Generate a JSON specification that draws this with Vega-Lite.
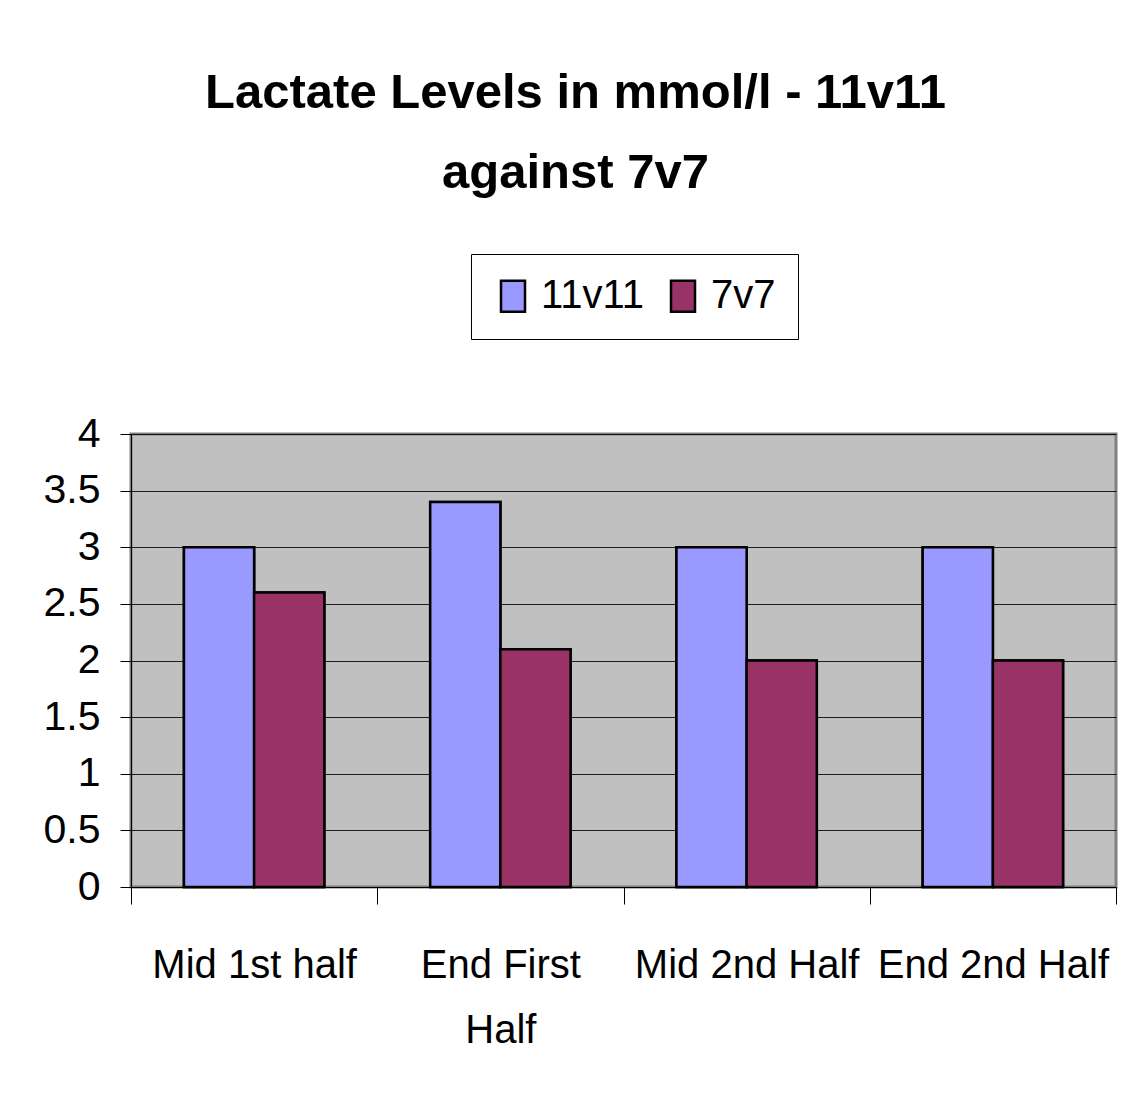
{
  "$schema": "https://vega.github.io/schema/vega-lite/v6.json",
  "width": 985,
  "height": 453,
  "autosize": {"type": "none"},
  "padding": {"left": 131, "top": 434, "right": 17, "bottom": 219},
  "background": "white",
  "title": {
    "text": ["Lactate Levels in mmol/l - 11v11", "against 7v7"],
    "font": "Liberation Sans",
    "fontSize": 49,
    "fontWeight": "bold",
    "color": "black",
    "lineHeight": 80,
    "anchor": "middle",
    "frame": "group",
    "dx": -48,
    "offset": 56
  },
  "data": {
    "values": [
      {"period": "Mid 1st half", "group": "11v11", "lactate": 3.0},
      {"period": "Mid 1st half", "group": "7v7", "lactate": 2.6},
      {"period": "End First Half", "group": "11v11", "lactate": 3.4},
      {"period": "End First Half", "group": "7v7", "lactate": 2.1},
      {"period": "Mid 2nd Half", "group": "11v11", "lactate": 3.0},
      {"period": "Mid 2nd Half", "group": "7v7", "lactate": 2.0},
      {"period": "End 2nd Half", "group": "11v11", "lactate": 3.0},
      {"period": "End 2nd Half", "group": "7v7", "lactate": 2.0}
    ]
  },
  "resolve": {"axis": {"x": "independent"}},
  "layer": [
    {
      "mark": {"type": "bar", "stroke": "black", "strokeWidth": 2.5},
      "encoding": {
        "x": {
          "field": "period",
          "type": "nominal",
          "sort": ["Mid 1st half", "End First Half", "Mid 2nd Half", "End 2nd Half"],
          "scale": {"paddingInner": 0.43, "paddingOuter": 0.215},
          "axis": {
            "title": null,
            "orient": "bottom",
            "labelAngle": 0,
            "labelFont": "Liberation Sans",
            "labelFontSize": 40,
            "labelColor": "black",
            "labelBaseline": "top",
            "labelLineHeight": 65,
            "labelPadding": 41,
            "labelExpr": "datum.value == 'End First Half' ? ['End First', 'Half'] : datum.value",
            "tickOffset": 123.125,
            "labelOffset": -123.125,
            "tickSize": 17,
            "tickColor": "black",
            "domainColor": "black",
            "grid": false,
            "labelLimit": 0
          }
        },
        "xOffset": {"field": "group", "type": "nominal", "scale": {"paddingInner": 0, "paddingOuter": 0}},
        "y": {
          "field": "lactate",
          "type": "quantitative",
          "scale": {"domain": [0, 4], "nice": false},
          "axis": {
            "title": null,
            "values": [0, 0.5, 1, 1.5, 2, 2.5, 3, 3.5, 4],
            "format": ".2~f",
            "labelFont": "Liberation Sans",
            "labelFontSize": 41,
            "labelColor": "black",
            "labelPadding": 20,
            "tickSize": 11,
            "tickColor": "black",
            "domainColor": "black",
            "gridColor": "black",
            "gridOpacity": 0.85,
            "grid": true
          }
        },
        "color": {
          "field": "group",
          "type": "nominal",
          "scale": {"domain": ["11v11", "7v7"], "range": ["#9999FF", "#993366"]},
          "legend": {
            "title": null,
            "orient": "none",
            "legendX": 340,
            "legendY": -180,
            "direction": "horizontal",
            "fillColor": "white",
            "strokeColor": "black",
            "padding": 22,
            "labelFont": "Liberation Sans",
            "labelFontSize": 40,
            "labelColor": "black",
            "labelOffset": 8,
            "columnPadding": 18,
            "symbolType": "M-0.774,-1H0.774V1H-0.774Z",
            "symbolSize": 961,
            "symbolStrokeColor": "black",
            "symbolStrokeWidth": 2.5,
            "symbolOpacity": 1
          }
        }
      }
    },
    {
      "mark": {"type": "bar", "stroke": "black", "strokeWidth": 2.5},
      "encoding": {
        "x": {
          "field": "period",
          "type": "nominal",
          "sort": ["Mid 1st half", "End First Half", "Mid 2nd Half", "End 2nd Half"],
          "axis": {
            "title": null,
            "orient": "bottom",
            "labels": false,
            "domain": false,
            "values": ["Mid 1st half"],
            "tickOffset": -123.125,
            "tickSize": 17,
            "tickColor": "black",
            "grid": false
          }
        },
        "xOffset": {"field": "group", "type": "nominal"},
        "y": {"field": "lactate", "type": "quantitative"},
        "color": {"field": "group", "type": "nominal"}
      }
    }
  ],
  "config": {
    "view": {"fill": "#C0C0C0", "stroke": "#808080", "strokeWidth": 3},
    "axis": {"domainWidth": 1, "tickWidth": 1, "gridWidth": 1}
  }
}
